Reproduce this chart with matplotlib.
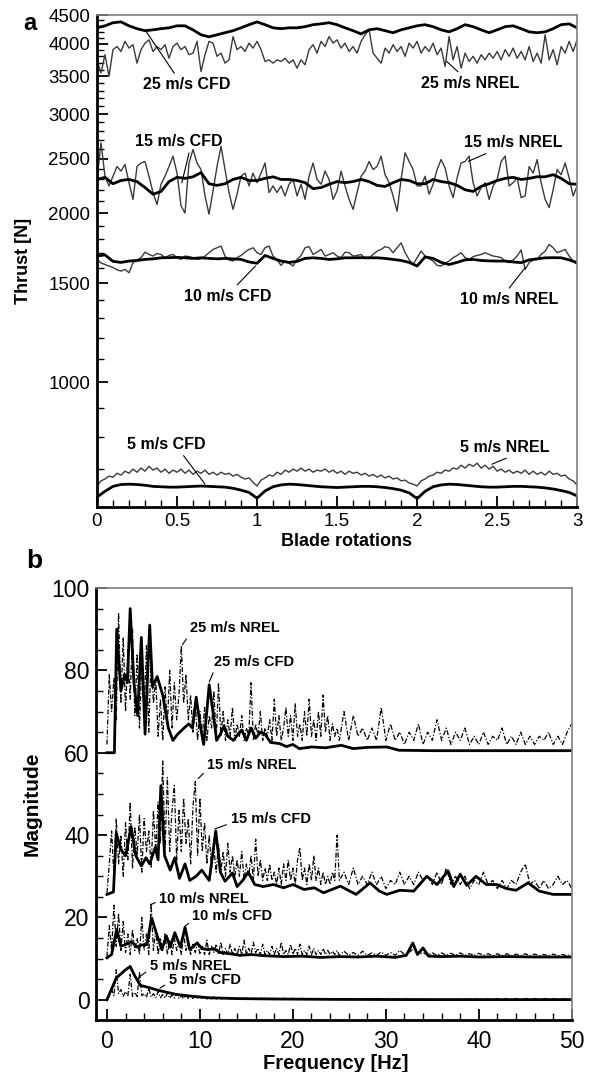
import matplotlib
matplotlib.use("Agg")
import matplotlib.pyplot as plt
from matplotlib.ticker import FixedLocator, FuncFormatter, MultipleLocator, NullFormatter

plt.rcParams['font.family'] = ['Liberation Sans', 'DejaVu Sans']

# ---------------- panel a: thrust vs blade rotations ----------------
rot_fine = [
    0, 0.025, 0.05, 0.075, 0.1, 0.125, 0.15, 0.175,
    0.2, 0.225, 0.25, 0.275, 0.3, 0.325, 0.35, 0.375,
    0.4, 0.425, 0.45, 0.475, 0.5, 0.525, 0.55, 0.575,
    0.6, 0.625, 0.65, 0.675, 0.7, 0.725, 0.75, 0.775,
    0.8, 0.825, 0.85, 0.875, 0.9, 0.925, 0.95, 0.975,
    1.0, 1.025, 1.05, 1.075, 1.1, 1.125, 1.15, 1.175,
    1.2, 1.225, 1.25, 1.275, 1.3, 1.325, 1.35, 1.375,
    1.4, 1.425, 1.45, 1.475, 1.5, 1.525, 1.55, 1.575,
    1.6, 1.625, 1.65, 1.675, 1.7, 1.725, 1.75, 1.775,
    1.8, 1.825, 1.85, 1.875, 1.9, 1.925, 1.95, 1.975,
    2.0, 2.025, 2.05, 2.075, 2.1, 2.125, 2.15, 2.175,
    2.2, 2.225, 2.25, 2.275, 2.3, 2.325, 2.35, 2.375,
    2.4, 2.425, 2.45, 2.475, 2.5, 2.525, 2.55, 2.575,
    2.6, 2.625, 2.65, 2.675, 2.7, 2.725, 2.75, 2.775,
    2.8, 2.825, 2.85, 2.875, 2.9, 2.925, 2.95, 2.975,
    3.0]
rot_coarse = rot_fine[::2]

thrust_nrel_25 = [
    3745, 3550, 3825, 3500, 3905, 3955, 3875, 4040,
    3930, 3985, 3695, 3905, 4010, 4065, 3875, 3955,
    3905, 3985, 3770, 3955, 4010, 3905, 3955, 3825,
    3850, 4040, 3570, 3825, 4040, 4010, 3800, 3850,
    3695, 3745, 4120, 3905, 3955, 3875, 4010, 3930,
    4040, 3905, 3720, 3745, 3695, 3745, 3720, 3770,
    3695, 3745, 3620, 3745, 3670, 3905, 3985, 3850,
    4040, 3955, 4120, 4010, 4065, 3930, 4010, 3875,
    3955, 3850, 4040, 4150, 4235, 3850, 3770, 3695,
    3930, 3850, 3985, 3875, 3955, 3800, 4010, 3930,
    4040, 3850, 3955, 3875, 4010, 3825, 3930, 3645,
    4120, 3745, 3955, 3620, 3850, 3720, 3800, 3695,
    3825, 3745, 3850, 3770, 3875, 3745, 3905, 3800,
    3930, 3770, 3875, 3745, 3955, 3720, 3850, 3695,
    4150, 3745, 3905, 3670, 3955, 3850, 4040, 3875,
    4065]
thrust_nrel_15 = [
    2295, 2665, 2325, 2235, 2325, 2420, 2375, 2440,
    2265, 2115, 2420, 2455, 2470, 2325, 2175, 2070,
    2250, 2325, 2420, 2525, 2355, 2060, 2000, 2455,
    2595, 2455, 2390, 2145, 1990, 2190, 2420, 2630,
    2390, 2175, 2030, 2160, 2325, 2355, 2235, 2355,
    2265, 2355, 2455, 2175, 2235, 2175, 2235, 2145,
    2250, 2295, 2145, 2250, 2115, 2325, 2455, 2295,
    2250, 2375, 2295, 2115, 2190, 2375, 2235, 2115,
    2030, 2175, 2325, 2375, 2470, 2390, 2420, 2525,
    2340, 2265, 2145, 2015, 2295, 2560, 2470, 2390,
    2235, 2235, 2325, 2160, 2250, 2390, 2490, 2405,
    2235, 2130, 2310, 2455, 2470, 2525, 2265, 2145,
    2220, 2265, 2115, 2235, 2295, 2470, 2525, 2235,
    2265, 2310, 2130, 2145, 2420, 2355, 2490, 2265,
    2115, 2045, 2200, 2390, 2340, 2455, 2310, 2145,
    2235]
thrust_nrel_10 = [
    1655, 1630, 1620, 1610, 1600, 1585, 1577, 1588,
    1566, 1632, 1650, 1666, 1704, 1688, 1677, 1695,
    1688, 1666, 1681, 1688, 1666, 1654, 1677, 1673,
    1666, 1654, 1659, 1677, 1700, 1723, 1735, 1747,
    1677, 1650, 1643, 1666, 1681, 1704, 1723, 1735,
    1700, 1688, 1735, 1747, 1677, 1650, 1614, 1643,
    1628, 1610, 1654, 1681, 1735, 1743, 1688, 1704,
    1723, 1677, 1688, 1700, 1677, 1666, 1704, 1700,
    1677, 1681, 1688, 1659, 1666, 1688, 1711, 1723,
    1743, 1735, 1700, 1735, 1770, 1700, 1654, 1620,
    1666, 1711, 1677, 1659, 1643, 1614, 1610, 1628,
    1643, 1666, 1681, 1700, 1666, 1654, 1673, 1681,
    1688, 1700, 1688, 1677, 1673, 1666, 1643, 1632,
    1650, 1677, 1719, 1588, 1632, 1650, 1654, 1688,
    1711, 1759, 1735, 1700, 1711, 1723, 1677, 1643,
    1620]
thrust_nrel_5 = [
    654, 668, 673, 681, 678, 689, 684, 695,
    689, 701, 692, 704, 695, 709, 698, 704,
    692, 701, 689, 698, 692, 701, 689, 698,
    686, 695, 689, 698, 686, 692, 684, 692,
    686, 689, 681, 686, 678, 673, 676, 664,
    654, 670, 676, 684, 681, 692, 686, 698,
    692, 701, 695, 704, 695, 701, 692, 698,
    695, 701, 692, 698, 689, 695, 686, 695,
    689, 692, 684, 689, 681, 686, 678, 684,
    676, 681, 673, 676, 668, 670, 662, 659,
    654, 668, 673, 681, 684, 692, 689, 698,
    695, 704, 701, 712, 704, 715, 709, 718,
    704, 712, 701, 709, 695, 701, 692, 698,
    689, 695, 689, 698, 686, 695, 686, 692,
    684, 695, 686, 689, 681, 684, 673, 668,
    656]

thrust_cfd_25 = [
    4270, 4305, 4360, 4375, 4305, 4255, 4220, 4235, 4255, 4270,
    4305, 4305, 4235, 4150, 4115, 4150, 4185, 4220, 4270, 4325,
    4375, 4325, 4270, 4255, 4270, 4270, 4290, 4325, 4340, 4360,
    4325, 4270, 4220, 4165, 4235, 4255, 4220, 4185, 4235, 4270,
    4305, 4325, 4290, 4235, 4200, 4255, 4325, 4290, 4235, 4185,
    4235, 4290, 4305, 4255, 4200, 4185, 4200, 4255, 4325, 4340,
    4270]
thrust_cfd_15 = [
    2295, 2315, 2255, 2285, 2295, 2275, 2220, 2160, 2185, 2275,
    2315, 2305, 2320, 2360, 2255, 2240, 2255, 2295, 2315, 2285,
    2285, 2305, 2320, 2295, 2295, 2285, 2265, 2210, 2220, 2250,
    2275, 2265, 2275, 2295, 2275, 2240, 2230, 2265, 2295, 2285,
    2255, 2255, 2295, 2275, 2265, 2240, 2200, 2185, 2230, 2255,
    2285, 2305, 2315, 2295, 2305, 2320, 2320, 2340, 2305, 2255,
    2250]
thrust_cfd_10 = [
    1677, 1685, 1641, 1634, 1643, 1647, 1654, 1658, 1665, 1666,
    1668, 1665, 1661, 1665, 1661, 1658, 1661, 1658, 1654, 1637,
    1628, 1681, 1661, 1643, 1634, 1641, 1661, 1665, 1661, 1654,
    1658, 1665, 1665, 1666, 1665, 1665, 1661, 1654, 1647, 1634,
    1610, 1671, 1661, 1634, 1620, 1634, 1651, 1654, 1647, 1644,
    1643, 1643, 1637, 1632, 1651, 1658, 1665, 1666, 1665, 1651,
    1632]
thrust_cfd_5 = [
    625, 640, 653, 658, 659, 658, 656, 653, 652, 651,
    651, 652, 653, 654, 653, 652, 651, 648, 643, 637,
    622, 641, 652, 657, 659, 658, 656, 654, 652, 651,
    650, 651, 652, 653, 653, 652, 650, 647, 643, 636,
    621, 640, 652, 657, 659, 658, 656, 654, 652, 651,
    651, 652, 653, 653, 652, 651, 649, 646, 642, 637,
    628]

thrust_major = [1000, 1500, 2000, 2500, 3000, 3500, 4000, 4500]

# ---------------- panel b: spectra ----------------
freq_nrel = [
    0, 0.25, 0.5, 0.75, 1, 1.25, 1.5, 1.75,
    2, 2.25, 2.5, 2.75, 3, 3.25, 3.5, 3.75,
    4, 4.25, 4.5, 4.75, 5, 5.25, 5.5, 5.75,
    6, 6.25, 6.5, 6.75, 7, 7.25, 7.5, 7.75,
    8, 8.25, 8.5, 8.75, 9, 9.25, 9.5, 9.75,
    10, 10.25, 10.5, 10.75, 11, 11.25, 11.5, 11.75,
    12, 12.25, 12.5, 12.75, 13, 13.25, 13.5, 13.75,
    14, 14.25, 14.5, 14.75, 15, 15.25, 15.5, 15.75,
    16, 16.25, 16.5, 16.75, 17, 17.25, 17.5, 17.75,
    18, 18.25, 18.5, 18.75, 19, 19.25, 19.5, 19.75,
    20, 20.25, 20.5, 20.75, 21, 21.25, 21.5, 21.75,
    22, 22.25, 22.5, 22.75, 23, 23.25, 23.5, 23.75,
    24, 24.25, 24.5, 24.75, 25,
    25.5, 26, 26.5, 27, 27.5, 28, 28.5, 29, 29.5, 30,
    30.5, 31, 31.5, 32, 32.5, 33, 33.5, 34, 34.5, 35,
    35.5, 36, 36.5, 37, 37.5, 38, 38.5, 39, 39.5, 40,
    40.5, 41, 41.5, 42, 42.5, 43, 43.5, 44, 44.5, 45,
    45.5, 46, 46.5, 47, 47.5, 48, 48.5, 49, 49.5, 50]

mag_nrel_25 = [
    62, 79, 70, 78, 68, 94, 72, 88,
    70, 85, 73, 90, 69, 84, 66, 82,
    70, 86, 65, 84, 72, 78, 64, 73,
    63, 76, 67, 80, 66, 77, 68, 74,
    86, 72, 79, 68, 74, 65, 72, 63,
    70, 64, 71, 63, 69, 66, 75, 63,
    77, 64, 70, 63, 68, 64, 71, 63,
    67, 64, 69, 63, 66, 64, 77, 63,
    67, 64, 70, 63, 66, 64, 68, 63,
    73, 64, 69, 63, 66, 71, 64, 69,
    63, 72, 64, 67, 63, 70, 64, 73,
    64, 68, 63, 70, 64, 74, 65, 69,
    63, 67, 64, 66, 63,
    70, 63, 69, 64, 66, 63, 66, 63, 71, 63,
    67, 63, 65, 62, 65, 63, 67, 62, 65, 63,
    68, 63, 66, 62, 65, 63, 66, 62, 64, 62,
    65, 62, 64, 63, 66, 62, 64, 62, 65, 62,
    64, 62, 64, 63, 65, 62, 64, 62, 65, 67]
mag_nrel_15 = [
    26, 33, 41, 30, 44, 33, 40, 30,
    43, 34, 48, 32, 42, 35, 45, 31,
    44, 36, 41, 32, 46, 36, 48, 38,
    58, 37, 54, 36, 46, 52, 34, 46,
    36, 49, 38, 44, 33, 47, 53, 35,
    49, 36, 43, 33, 40, 32, 37, 31,
    38, 31, 36, 30, 38, 31, 35, 30,
    34, 30, 36, 29, 33, 30, 35, 29,
    39, 30, 34, 29, 32, 29, 33, 29,
    31, 28, 32, 28, 33, 29, 34, 29,
    32, 28, 34, 37, 29, 32, 28, 33,
    29, 35, 29, 32, 28, 31, 28, 30,
    28, 31, 29, 40, 29,
    31, 28, 32, 28, 30, 28, 31, 28, 30, 27,
    29, 28, 31, 28, 30, 28, 31, 29, 30, 28,
    31, 28, 32, 28, 30, 28, 30, 27, 29, 28,
    31, 28, 29, 27, 29, 27, 29, 28, 31, 33,
    28, 29, 27, 29, 27, 28, 30, 28, 29, 27]
mag_nrel_10 = [
    10.5, 18, 12, 23, 13, 21, 12, 19,
    11.5, 16, 11, 17, 12, 15, 11, 20,
    12, 16, 11, 23.5, 12, 17, 11, 15,
    12, 16, 11, 14.5, 11, 15, 12, 14,
    11, 16, 12, 14, 11, 13.5, 11.5, 14,
    11, 13, 11, 14.5, 11, 13, 11.5, 13.5,
    11, 14, 11, 12.5, 11, 13.5, 11, 12.5,
    11, 13, 11, 14.5, 11, 12.5, 11, 14,
    11.5, 12.5, 11, 13.5, 11, 12, 11, 13,
    11, 12.5, 11, 14, 11, 12, 11, 13.5,
    11, 12.5, 11, 13.5, 11, 12, 11, 13,
    11, 12.5, 11, 12, 11, 12.5, 11, 12,
    11, 11.8, 11, 12, 10.8,
    11.8, 10.8, 11.5, 10.8, 11.8, 10.8, 11.4, 10.8, 11.6, 10.8,
    11.5, 10.8, 12, 11, 11.5, 12.5, 11, 11.5, 10.8, 11.4,
    10.8, 11.4, 10.8, 11.3, 10.8, 11.4, 10.8, 11.2, 10.8, 11.3,
    10.8, 11.2, 10.7, 11.2, 10.7, 11.2, 10.7, 11.1, 10.7, 11.2,
    10.7, 11.1, 10.7, 11.0, 10.7, 11.1, 10.7, 11.0, 10.7, 11.0]
mag_nrel_5 = [
    0, 1, 2.5, 1, 7.3, 1.5, 2.5, 0.8,
    2, 1, 6.2, 0.8, 1.8, 0.8, 6.8, 1,
    1.5, 0.6, 2.8, 0.7, 1.5, 0.5, 2, 0.5,
    1.3, 0.4, 1.6, 0.4, 1.2, 0.4, 1.5, 0.3,
    1.0, 0.3, 1.2, 0.3, 0.9, 0.3, 1.0, 0.2,
    0.8, 0.2, 0.7, 0.2, 0.6, 0.2, 0.7, 0.2,
    0.6, 0.1, 0.5, 0.2, 0.6, 0.1, 0.5, 0.1,
    0.5, 0.1, 0.4, 0.1, 0.5, 0.1, 0.4, 0.1,
    0.4, 0.1, 0.5, 0.1, 0.4, 0.1, 0.4, 0.1,
    0.4, 0.1, 0.3, 0.1, 0.4, 0.1, 0.3, 0.1,
    0.4, 0.1, 0.3, 0.1, 0.4, 0.1, 0.3, 0.1,
    0.3, 0.1, 0.4, 0.1, 0.3, 0.1, 0.3, 0.1,
    0.3, 0.1, 0.3, 0.1, 0.3,
    0.1, 0.3, 0.1, 0.3, 0.1, 0.3, 0.1, 0.3, 0.1, 0.3,
    0.1, 0.3, 0.1, 0.3, 0.1, 0.3, 0.1, 0.3, 0.1, 0.3,
    0.1, 0.3, 0.1, 0.3, 0.1, 0.3, 0.1, 0.3, 0.1, 0.3,
    0.1, 0.3, 0.1, 0.3, 0.1, 0.3, 0.1, 0.3, 0.1, 0.3,
    0.1, 0.3, 0.1, 0.3, 0.1, 0.3, 0.1, 0.3, 0.1, 0.3]

freq_cfd_25 = [0, 0.8, 1.05, 1.5, 1.9, 2.2, 2.5, 2.9, 3.3, 3.7,
               4.1, 4.6, 4.9, 5.4, 6.0, 6.6, 7.1, 7.6, 8.3, 8.8,
               9.2, 9.6, 10.0, 10.4, 10.7, 11.0, 11.4, 11.8, 12.2, 12.6,
               13.0, 13.6, 14.1, 14.5, 15.0, 15.5, 16.0, 16.5, 17.0, 17.6,
               18.6, 19.3, 20.0, 20.7, 22.0, 23.5, 25.2, 26.5, 28.0, 30.1,
               31.4, 35.0, 40.0, 45.0, 50.0]
mag_cfd_25 = [60, 60, 90, 75, 79, 77, 95, 77, 69, 88,
              64.5, 91, 76, 78.5, 74, 66, 63, 64.5, 66, 67,
              66, 73.5, 67, 62, 69, 76.5, 70, 63, 64.5, 66.5,
              64, 63, 64.5, 65.5, 63, 66, 63.5, 65, 64.5, 62.5,
              62.2, 61.5, 62.0, 61.0, 61.4, 61.2, 61.8, 61.0, 61.3, 61.4,
              60.6, 60.5, 60.5, 60.5, 60.5]
freq_cfd_15 = [0, 0.7, 1.0, 1.5, 2.0, 2.6, 3.1, 3.7, 4.2, 4.6,
               5.2, 5.5, 5.8, 6.2, 6.8, 7.3, 7.8, 8.4, 8.9, 9.6,
               10.2, 11.0, 11.7, 12.2, 12.7, 13.5, 14.0, 14.6, 15.2, 15.9,
               16.8, 17.9, 19.0, 20.0, 21.2, 22.3, 23.3, 24.2, 25.1, 26.8,
               28.3, 29.3, 30.1, 31.5, 33.0, 34.4, 35.5, 36.7, 37.3, 38.0,
               38.7, 39.7, 40.8, 41.9, 43.0, 44.0, 45.3, 46.5, 48.0, 50.0]
mag_cfd_15 = [25.6, 26.2, 40.5, 36.5, 35.0, 42.0, 35.0, 32.5, 34.5, 33.0,
              37.0, 34.0, 52.0, 35.0, 31.5, 34.5, 29.5, 33.0, 29.0, 30.0,
              31.5, 29.0, 41.0, 31.0, 28.8, 30.8, 27.5, 29.0, 31.0, 28.0,
              27.5, 28.0, 27.2, 28.0, 26.8, 27.2, 26.0, 26.8, 27.6, 25.6,
              28.4, 26.4, 25.6, 26.6, 26.4, 30.0, 28.0, 31.3, 27.5, 30.5,
              27.8, 30.0, 28.0, 28.0, 27.0, 26.6, 28.4, 26.4, 25.6, 25.6]
freq_cfd_10 = [0, 0.5, 1.05, 1.5, 2.1, 2.65, 3.2, 3.7, 4.3, 4.8,
               5.3, 5.9, 6.4, 6.8, 7.3, 7.9, 8.4, 8.9, 9.7, 10.2,
               10.8, 11.5, 12.2, 13.2, 14.3, 15.5, 17.0, 19.0, 21.0, 23.0,
               25.0, 27.0, 29.0, 31.0, 32.2, 32.9, 33.4, 34.0, 34.6, 36.0,
               38.0, 40.0, 43.0, 46.0, 50.0]
mag_cfd_10 = [10.2, 11.0, 17.1, 13.0, 13.5, 14.2, 12.8, 13.3, 13.4, 19.9,
              16.3, 12.2, 15.5, 12.8, 16.3, 12.8, 17.6, 12.2, 13.8, 12.5,
              12.2, 12.4, 11.5, 11.2, 10.8, 11.0, 10.7, 10.5, 10.6, 10.3,
              10.5, 10.4, 10.6, 10.3, 10.8, 13.8, 11.0, 12.6, 10.6, 10.5,
              10.6, 10.4, 10.5, 10.4, 10.4]
freq_cfd_5 = [0, 1.0, 1.5, 2.0, 2.5, 3.0, 3.6, 4.5, 5.5, 6.5,
              7.5, 9.0, 11.0, 14.0, 18.0, 25.0, 35.0, 50.0]
mag_cfd_5 = [0, 5.3, 6.3, 7.3, 8.1, 5.8, 3.5, 3.0, 2.3, 1.8,
             1.3, 0.9, 0.5, 0.3, 0.2, 0.1, 0.05, 0.05]


def style_axes(ax, tick_size, pad_x, pad_y):
    for side in ['left', 'bottom']:
        ax.spines[side].set_linewidth(2)
        ax.spines[side].set_color('black')
    for side in ['top', 'right']:
        ax.spines[side].set_linewidth(1.2)
        ax.spines[side].set_color('#808080')
    ax.tick_params(which='both', direction='in', top=False, right=False,
                   labelsize=tick_size)
    ax.tick_params(which='major', length=8, width=1.3)
    ax.tick_params(which='minor', length=5, width=1)
    ax.tick_params(axis='x', pad=pad_x)
    ax.tick_params(axis='y', pad=pad_y)


def add_label(ax, text, xy, xytext, relpos, size):
    ax.annotate(text, xy=xy, xytext=xytext, ha='center', va='center',
                fontsize=size, fontweight='bold',
                arrowprops=dict(arrowstyle='-', lw=0.8, color='black',
                                shrinkA=1, shrinkB=0, relpos=relpos))


fig = plt.figure(figsize=(5.95, 10.72), dpi=100)

# ---- panel a ----
ax_a = fig.add_axes([0.163, 0.527, 0.807, 0.459])
thin = dict(color='#3a3a3a', lw=1.0)
thick = dict(color='black', lw=2.0)
for series in [thrust_nrel_25, thrust_nrel_15, thrust_nrel_10, thrust_nrel_5]:
    ax_a.plot(rot_fine, series, **thin)
for series in [thrust_cfd_25, thrust_cfd_15, thrust_cfd_10, thrust_cfd_5]:
    ax_a.plot(rot_coarse, series, **thick)

ax_a.set_yscale('log')
ax_a.set_xlim(0, 3)
ax_a.set_ylim(600, 4500)
ax_a.yaxis.set_major_locator(FixedLocator(thrust_major))
ax_a.yaxis.set_minor_locator(FixedLocator(
    [v for v in range(600, 4500, 100) if v not in thrust_major]))
ax_a.yaxis.set_major_formatter(FuncFormatter(lambda v, p: '%d' % v))
ax_a.yaxis.set_minor_formatter(NullFormatter())
ax_a.xaxis.set_major_locator(MultipleLocator(0.5))
ax_a.xaxis.set_minor_locator(MultipleLocator(0.1))
ax_a.xaxis.set_major_formatter(FuncFormatter(lambda v, p: ('%g' % v)))
style_axes(ax_a, 13.5, 4.5, 5)
ax_a.set_xlabel('Blade rotations', fontsize=13, fontweight='bold')
ax_a.set_ylabel('Thrust [N]', fontsize=13, fontweight='bold')
ax_a.xaxis.set_label_coords(0.52, -0.052)
ax_a.yaxis.set_label_coords(-0.135, 0.5)

labels_a = [
    ("25 m/s CFD", (0.30, 4235), (0.56, 3383), (0.39, 1.0)),
    ("25 m/s NREL", (2.185, 3721), (2.33, 3406), (0.42, 1.0)),
    ("15 m/s CFD", (0.53, 2263), (0.51, 2683), (0.63, 0.0)),
    ("15 m/s NREL", (2.32, 2472), (2.6, 2666), (0.3, 0.0)),
    ("10 m/s CFD", (0.99, 1610), (0.815, 1423), (0.57, 1.0)),
    ("10 m/s NREL", (2.675, 1599), (2.575, 1404), (0.47, 1.0)),
    ("5 m/s CFD", (0.675, 659), (0.434, 776), (0.68, 0.0)),
    ("5 m/s NREL", (2.467, 715), (2.55, 766), (0.6, 0.0)),
]
for text, xy, xytext, rp in labels_a:
    add_label(ax_a, text, xy, xytext, rp, 11.5)

# ---- panel b ----
ax_b = fig.add_axes([0.161, 0.0485, 0.8, 0.403])
dashdot = dict(color='black', lw=0.9, linestyle=(0, (4, 1.5, 1, 1.5)))
for series in [mag_nrel_25, mag_nrel_15, mag_nrel_10, mag_nrel_5]:
    ax_b.plot(freq_nrel, series, **dashdot)
ax_b.plot(freq_cfd_25, mag_cfd_25, **thick)
ax_b.plot(freq_cfd_15, mag_cfd_15, **thick)
ax_b.plot(freq_cfd_10, mag_cfd_10, **thick)
ax_b.plot(freq_cfd_5, mag_cfd_5, **thick)

ax_b.set_xlim(-1.2, 50)
ax_b.set_ylim(-4.9, 100)
ax_b.xaxis.set_major_locator(MultipleLocator(10))
ax_b.xaxis.set_minor_locator(MultipleLocator(2))
ax_b.yaxis.set_major_locator(MultipleLocator(20))
ax_b.yaxis.set_minor_locator(MultipleLocator(5))
style_axes(ax_b, 16.5, 7, 4.5)
ax_b.set_xlabel('Frequency [Hz]', fontsize=14.5, fontweight='bold')
ax_b.set_ylabel('Magnitude', fontsize=15, fontweight='bold')
ax_b.xaxis.set_label_coords(0.504, -0.079)
ax_b.yaxis.set_label_coords(-0.113, 0.5)

labels_b = [
    ("25 m/s NREL", (8.1, 86.2), (13.76, 90.2), (0.0, 0.1)),
    ("25 m/s CFD", (11.0, 77.2), (15.8, 82.1), (0.02, 0.1)),
    ("15 m/s NREL", (9.8, 53.7), (15.6, 56.9), (0.0, 0.2)),
    ("15 m/s CFD", (11.6, 41.5), (17.6, 43.9), (0.0, 0.2)),
    ("10 m/s NREL", (4.8, 23.2), (10.45, 24.4), (0.0, 0.4)),
    ("10 m/s CFD", (8.4, 17.9), (13.5, 20.3), (0.0, 0.2)),
    ("5 m/s NREL", (3.55, 5.7), (9.0, 8.1), (0.0, 0.3)),
    ("5 m/s CFD", (5.7, 2.8), (10.5, 4.9), (0.0, 0.3)),
]
for text, xy, xytext, rp in labels_b:
    add_label(ax_b, text, xy, xytext, rp, 10.5)

fig.text(0.05, 0.972, 'a', fontsize=17, fontweight='bold', ha='center', va='baseline')
fig.text(0.057, 0.47, 'b', fontsize=19, fontweight='bold', ha='center', va='baseline')

fig.savefig('out.png', dpi=100)
